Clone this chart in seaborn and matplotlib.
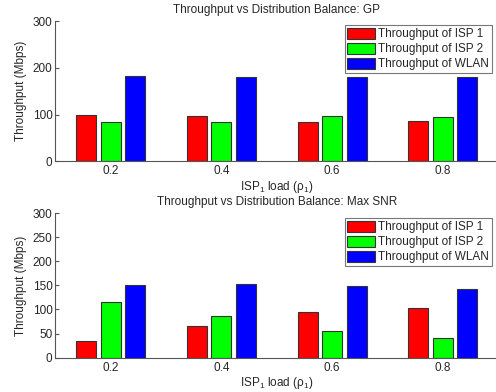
import matplotlib
matplotlib.use("Agg")
import matplotlib.pyplot as plt
import seaborn as sns
import pandas as pd

loads = ["0.2", "0.4", "0.6", "0.8"]
series = ["Throughput of ISP 1", "Throughput of ISP 2", "Throughput of WLAN"]
gp_isp1 = [100, 96, 84, 86]
gp_isp2 = [84, 84, 97, 95]
gp_wlan = [182, 180, 180, 180]
snr_isp1 = [34, 65, 95, 103]
snr_isp2 = [115, 86, 55, 41]
snr_wlan = [150, 152, 149, 143]
colors = ["#FF0000", "#00FF00", "#0000FF"]

sns.set_theme(style="white")
plt.rcParams["font.family"] = ["Liberation Sans", "DejaVu Sans"]
plt.rcParams["mathtext.fontset"] = "custom"
plt.rcParams["mathtext.rm"] = "Liberation Sans"
plt.rcParams["mathtext.it"] = "Liberation Sans:italic"


def make_df(a, b, c):
    rows = []
    for s, vals in zip(series, [a, b, c]):
        for l, v in zip(loads, vals):
            rows.append({"load": l, "series": s, "value": v})
    return pd.DataFrame(rows)


fig = plt.figure(figsize=(4.96, 3.92), dpi=100)
W, H = 496, 392
left = 55.4 / W
width = 442.7 / W
ax1 = fig.add_axes([left, (H - 161.3) / H, width, 140.3 / H])
ax2 = fig.add_axes([left, (H - 357.7) / H, width, 144.7 / H])

configs = [
    (ax1, make_df(gp_isp1, gp_isp2, gp_wlan), "Throughput vs Distribution Balance: GP", [0, 100, 200, 300], 25),
    (ax2, make_df(snr_isp1, snr_isp2, snr_wlan), "Throughput vs Distribution Balance: Max SNR", [0, 50, 100, 150, 200, 250, 300], 218),
]

for ax, df, title, yt, legtop in configs:
    sns.barplot(data=df, x="load", y="value", hue="series", palette=colors,
                width=0.664, gap=0.185, edgecolor="#333333", linewidth=0.8,
                saturation=1, ax=ax, errorbar=None)
    ax.set_xlim(-0.5, 3.5)
    ax.set_ylim(0, 300)
    ax.set_yticks(yt)
    ax.set_xlabel("ISP$_1$ load (ρ$_1$)", fontsize=8.5, labelpad=1)
    ax.set_ylabel("Throughput (Mbps)", fontsize=8.5, labelpad=4)
    ax.set_title(title, fontsize=8.5, pad=6)
    for s in ["top", "right"]:
        ax.spines[s].set_visible(False)
    for s in ["left", "bottom"]:
        ax.spines[s].set_color("#555555")
        ax.spines[s].set_linewidth(0.8)
    ax.tick_params(axis="y", direction="in", length=3, width=0.8, color="#555555",
                   labelsize=8.5, pad=2, left=True)
    ax.tick_params(axis="x", length=0, labelsize=8.5, pad=3)
    handles, labels = ax.get_legend_handles_labels()
    leg = ax.legend(handles, labels, loc="upper right",
                    bbox_to_anchor=(492 / W, 1 - legtop / H), bbox_transform=fig.transFigure,
                    borderaxespad=0, fontsize=8.5, fancybox=False, frameon=True,
                    handlelength=2.3, handleheight=1.05, labelspacing=0.2,
                    handletextpad=0.3, borderpad=0.25)
    leg.get_frame().set_edgecolor("#555555")
    leg.get_frame().set_linewidth(0.8)
    for p in leg.get_patches():
        p.set_edgecolor("#333333")

fig.savefig("out.png", dpi=100)
